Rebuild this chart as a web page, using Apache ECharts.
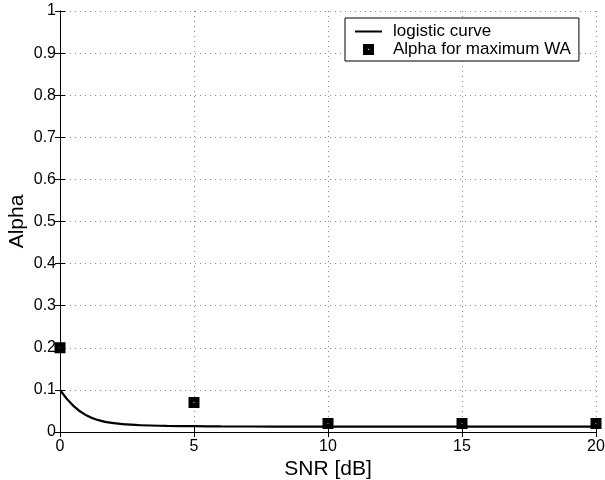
<!DOCTYPE html>
<html><head><meta charset="utf-8">
<script src="https://cdn.jsdelivr.net/npm/echarts@6/dist/echarts.min.js"></script>
<style>html,body{margin:0;padding:0;background:#fff}#c{width:605px;height:480px}</style>
</head><body><div id="c"></div>
<script>
const curveX = [0, 0.5, 1, 1.5, 2, 2.5, 3, 4, 5, 6, 8, 10, 12, 15, 18, 20];
const curveY = [0.100, 0.062, 0.039, 0.027, 0.021, 0.018, 0.016, 0.0145, 0.0138, 0.0133, 0.013, 0.0128, 0.0127, 0.0127, 0.0127, 0.0127];
const pointX = [0, 5, 10, 15, 20];
const pointY = [0.2, 0.07, 0.02, 0.02, 0.02];
const xTicks = [0, 5, 10, 15, 20];
const yTicks = [0, 0.1, 0.2, 0.3, 0.4, 0.5, 0.6, 0.7, 0.8, 0.9, 1];
const names = ['logistic curve', 'Alpha for maximum WA'];

const font = 'Liberation Sans, Arial, sans-serif';
const sq = 'path://M0,0 L10,0 L10,10 L0,10 Z M4.6,4.6 L4.6,5.4 L5.4,5.4 L5.4,4.6 Z';
const chart = echarts.init(document.getElementById('c'), null, {renderer: 'canvas'});
const fmt = v => { const r = Math.round(v * 10) / 10; return (r === 0 || r === 1) ? String(r) : r.toFixed(1); };
const gridLine = {show: true, lineStyle: {color: '#8a8a8a', type: [1, 4], width: 1}};
chart.setOption({
  animation: false,
  backgroundColor: '#fff',
  grid: {left: 60, right: 9, top: 11, bottom: 48, containLabel: false, outerBoundsMode: 'none'},
  legend: {
    orient: 'vertical', left: 345, top: 18,
    backgroundColor: '#fff', borderColor: '#000', borderWidth: 1,
    padding: [5, 8, 3, 10], itemGap: 1, itemWidth: 27, itemHeight: 11,
    textStyle: {fontFamily: font, fontSize: 17, color: '#000', lineHeight: 17, padding: [0, 0, 0, 6]},
    data: [{name: names[0], icon: 'path://M0,4.5 L27,4.5 L27,6.5 L0,6.5 Z'},
           {name: names[1], icon: sq}]
  },
  xAxis: [{
    type: 'value', min: 0, max: 20, interval: 5,
    name: 'SNR [dB]', nameLocation: 'middle', nameGap: 27, nameMoveOverlap: false,
    nameTextStyle: {fontFamily: font, fontSize: 21, color: '#000'},
    axisLine: {show: true, lineStyle: {color: '#000', width: 1}},
    axisTick: {show: true, inside: true, length: 5, lineStyle: {color: '#000'}},
    axisLabel: {fontFamily: font, fontSize: 16, color: '#000', margin: 7},
    splitLine: gridLine
  }, {
    type: 'value', position: 'top', min: 0, max: 20, interval: 5,
    axisLine: {show: true, lineStyle: {color: '#000', width: 1}},
    axisTick: {show: true, inside: true, length: 5, lineStyle: {color: '#000'}},
    axisLabel: {show: false}, splitLine: {show: false}
  }],
  yAxis: [{
    type: 'value', min: 0, max: 1, interval: 0.1,
    name: 'Alpha', nameLocation: 'middle', nameGap: 32, nameRotate: 90, nameMoveOverlap: false,
    nameTextStyle: {fontFamily: font, fontSize: 21, color: '#000'},
    axisLine: {show: true, lineStyle: {color: '#000', width: 1}},
    axisTick: {show: true, inside: true, length: 5, lineStyle: {color: '#000'}},
    axisLabel: {fontFamily: font, fontSize: 16, color: '#000', margin: 4, formatter: fmt},
    splitLine: gridLine
  }, {
    type: 'value', position: 'right', min: 0, max: 1, interval: 0.1,
    axisLine: {show: true, lineStyle: {color: '#000', width: 1}},
    axisTick: {show: true, inside: true, length: 5, lineStyle: {color: '#000'}},
    axisLabel: {show: false}, splitLine: {show: false}
  }],
  series: [{
    name: names[0], type: 'line', smooth: true, showSymbol: false, symbol: 'none',
    color: '#000', lineStyle: {color: '#000', width: 2.2},
    data: curveX.map((x, i) => [x, curveY[i]]), z: 3
  }, {
    name: names[1], type: 'scatter', symbol: sq, symbolSize: 11,
    itemStyle: {color: '#000', opacity: 1}, color: '#000',
    data: pointX.map((x, i) => [x, pointY[i]]), z: 4
  }]
});
</script></body></html>
